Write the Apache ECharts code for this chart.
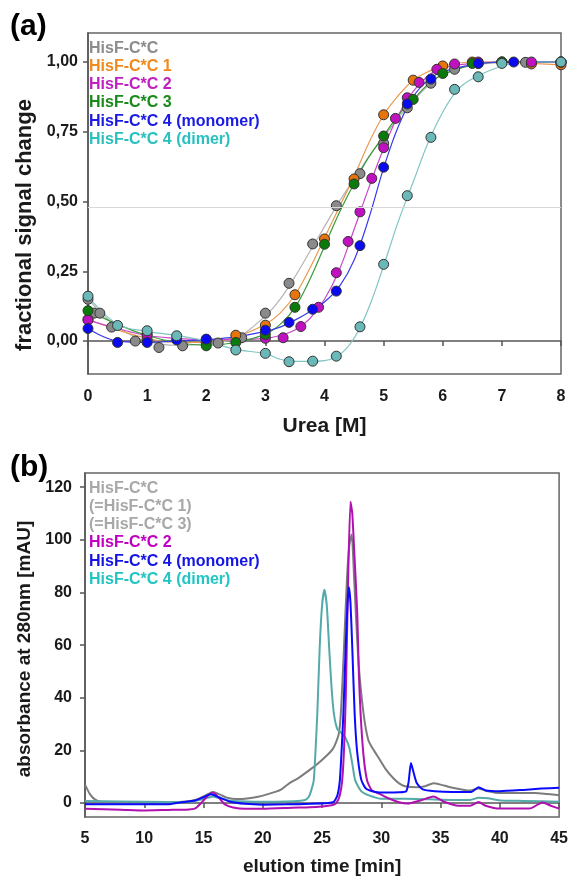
<!DOCTYPE html>
<html>
<head>
<meta charset="utf-8">
<script src="https://cdn.jsdelivr.net/npm/echarts@6/dist/echarts.min.js"></script>
<style>
  html, body { margin: 0; padding: 0; background: #fff; }
  #main { width: 571px; height: 879px; }
</style>
</head>
<body>
<div id="main"></div>
<script>
// ---- panel (a): urea unfolding ----
var names = ['HisF-C*C', 'HisF-C*C 1', 'HisF-C*C 2', 'HisF-C*C 3', 'HisF-C*C 4 (monomer)', 'HisF-C*C 4 (dimer)'];
var ureaTicks = [0, 1, 2, 3, 4, 5, 6, 7, 8];
var fracTicks = [0, 0.25, 0.5, 0.75, 1];
var halfLine = 0.485;

// measured points [urea, fraction]
var ptsC = [[0,0.15],[0.1,0.1],[0.2,0.1],[0.4,0.05],[0.8,0.0],[1.0,0.025],[1.2,-0.023],[1.6,-0.017],[2.2,-0.007],[2.6,0.012],[3.0,0.1],[3.4,0.207],[3.8,0.348],[4.2,0.485],[4.6,0.6],[5.0,0.709],[5.4,0.836],[5.8,0.924],[6.2,0.974],[6.6,0.995],[7.0,1.0],[7.4,0.999],[8.0,1.0]];
var ptsC1 = [[0,0.078],[1.0,0.006],[2.0,-0.005],[2.5,0.021],[3.0,0.057],[3.5,0.166],[4.0,0.366],[4.5,0.581],[5.0,0.811],[5.5,0.935],[6.0,0.986],[6.5,1.0],[7.0,1.0],[7.5,0.993],[8.0,0.99]];
var ptsC2 = [[0,0.075],[1.0,0.02],[2.0,0.005],[3.0,0.01],[3.3,0.012],[3.6,0.052],[3.9,0.121],[4.2,0.245],[4.4,0.357],[4.6,0.463],[4.8,0.583],[5.0,0.693],[5.2,0.798],[5.4,0.872],[5.6,0.927],[5.9,0.974],[6.2,0.993],[6.6,1.0],[7.5,1.0],[8.0,1.0]];
var ptsC3 = [[0,0.109],[2.0,-0.017],[2.5,-0.005],[3.0,0.024],[3.5,0.121],[4.0,0.347],[4.5,0.563],[5.0,0.735],[5.5,0.866],[6.0,0.959],[6.5,0.995],[7.0,1.0],[8.0,1.0]];
var ptsC4m = [[0,0.045],[0.5,-0.005],[1.0,-0.005],[1.5,0.004],[2.0,0.007],[3.0,0.039],[3.4,0.067],[3.8,0.114],[4.2,0.179],[4.6,0.342],[5.0,0.623],[5.4,0.85],[5.8,0.939],[6.6,0.995],[7.2,1.0],[8.0,1.0]];
var ptsC4d = [[0,0.161],[0.5,0.056],[1.0,0.037],[1.5,0.019],[2.5,-0.032],[3.0,-0.044],[3.4,-0.074],[3.8,-0.072],[4.2,-0.054],[4.6,0.051],[5.0,0.275],[5.4,0.521],[5.8,0.73],[6.2,0.902],[6.6,0.947],[7.0,0.995],[8.0,1.0]];

// fitted curves
var fitC = [[0,0.15],[0.5,0.05],[1,0.0],[1.5,-0.015],[2,-0.01],[2.5,0.01],[3,0.09],[3.25,0.15],[3.5,0.23],[3.75,0.32],[4,0.41],[4.25,0.5],[4.5,0.58],[4.75,0.66],[5,0.73],[5.25,0.8],[5.5,0.86],[5.75,0.915],[6,0.955],[6.5,0.988],[7,0.998],[7.5,1.0],[8,1.0]];
var fitC1 = [[0,0.078],[0.5,0.04],[1,0.01],[1.5,-0.005],[2,-0.005],[2.5,0.015],[3,0.06],[3.25,0.1],[3.5,0.165],[3.75,0.26],[4,0.37],[4.25,0.48],[4.5,0.59],[4.75,0.71],[5,0.81],[5.25,0.88],[5.5,0.935],[5.75,0.965],[6,0.985],[6.5,1.0],[7,1.0],[7.5,0.995],[8,0.99]];
var fitC2 = [[0,0.075],[0.5,0.045],[1,0.02],[1.5,0.01],[2,0.005],[2.5,0.005],[3,0.01],[3.25,0.02],[3.5,0.04],[3.75,0.08],[4,0.15],[4.25,0.255],[4.5,0.4],[4.75,0.55],[5,0.69],[5.25,0.81],[5.5,0.895],[5.75,0.95],[6,0.978],[6.5,0.995],[7,1.0],[7.5,1.0],[8,1.0]];
var fitC3 = [[0,0.109],[0.5,0.06],[1,0.02],[1.5,-0.005],[2,-0.015],[2.5,-0.005],[3,0.025],[3.25,0.06],[3.5,0.12],[3.75,0.22],[4,0.34],[4.25,0.46],[4.5,0.565],[4.75,0.66],[5,0.735],[5.25,0.81],[5.5,0.865],[5.75,0.92],[6,0.955],[6.5,0.99],[7,1.0],[7.5,1.0],[8,1.0]];
var fitC4m = [[0,0.045],[0.5,0.0],[1,-0.005],[1.5,0.0],[2,0.005],[2.5,0.015],[3,0.035],[3.25,0.05],[3.5,0.075],[3.75,0.105],[4,0.14],[4.25,0.195],[4.5,0.29],[4.75,0.44],[5,0.62],[5.25,0.77],[5.5,0.875],[5.75,0.935],[6,0.965],[6.5,0.99],[7,1.0],[7.5,1.0],[8,1.0]];
var fitC4d = [[0,0.16],[0.5,0.06],[1,0.035],[1.5,0.02],[2,0.0],[2.5,-0.03],[3,-0.045],[3.25,-0.065],[3.5,-0.073],[3.75,-0.073],[4,-0.07],[4.25,-0.05],[4.5,0.01],[4.75,0.12],[5,0.27],[5.25,0.43],[5.5,0.57],[5.75,0.71],[6,0.82],[6.25,0.9],[6.5,0.94],[7,0.985],[7.5,1.0],[8,1.0]];

// ---- panel (b): SEC elution profiles [min, mAU] ----
var timeTicks = [5, 10, 15, 20, 25, 30, 35, 40, 45];
var absTicks = [0, 20, 40, 60, 80, 100, 120];
var secC = [[5,7],[5.4,3.5],[5.8,1.5],[6.3,0.5],[7,0.3],[10,0.2],[12,0.3],[13.5,0.6],[14.5,1.5],[15.2,3],[15.8,4.2],[16.4,3.2],[17,2],[17.8,1.5],[18.5,1.6],[19.5,2.3],[20.5,3.5],[21.5,5],[22.2,7.4],[23.0,9.5],[23.9,12.4],[24.9,16],[25.9,20.5],[26.4,26],[26.6,35],[26.85,59],[27.1,85],[27.3,98],[27.5,102],[27.7,86],[27.85,72],[28.1,52],[28.5,34],[28.9,24],[29.3,20.5],[29.8,17],[30.35,13],[31.0,9.5],[31.5,7.5],[32.0,6.4],[33.0,6],[33.7,6.4],[34.4,7.5],[35,7],[36,5.8],[37,5],[37.5,4.8],[38.2,5.5],[39,4.5],[40,3.8],[42,3.8],[43,3.8],[44,3.4],[45,3]];
var secC2 = [[5,-2.2],[8,-2.5],[10,-2.8],[12,-2.6],[13.5,-2.5],[14.3,-2],[14.8,0],[15.3,2.5],[15.8,4],[16.3,2],[16.8,-0.5],[17.5,-1.7],[18.5,-2.2],[20,-2.2],[22.5,-1.8],[24.5,-1.5],[25.8,-0.8],[26.2,0],[26.5,3],[26.7,8.6],[26.85,20],[27.0,40],[27.2,85],[27.4,114.5],[27.55,110],[27.7,97],[27.97,72],[28.1,50],[28.25,34],[28.5,18],[28.8,8.6],[29.2,4.8],[29.8,3.6],[30.5,2],[31.5,0.3],[32.2,-0.2],[33.3,1],[34.4,2.5],[35.3,0.5],[36.5,-1],[37.5,-1],[38.2,0.4],[38.8,-1],[40,-2.1],[42.5,-2.1],[43.6,0.2],[44.3,-1],[45,-2.1]];
var secC4m = [[5,-0.5],[8,-0.5],[12,-0.5],[13,0.2],[14.3,1],[15,2.2],[15.6,3.3],[16.3,2.2],[17.2,0.6],[18.5,-0.3],[20,-0.6],[22,-0.5],[24,-0.3],[25.5,0],[26.0,0.5],[26.3,3],[26.5,8.6],[26.65,20],[26.8,34],[27.0,60],[27.15,76],[27.27,82],[27.4,76],[27.55,59],[27.75,34],[27.95,20],[28.3,9],[28.7,5.5],[29.5,4.2],[30.5,4],[31.5,4.1],[32.1,4.5],[32.3,8],[32.5,15.2],[32.7,12],[33.0,7.5],[33.5,5.2],[34.5,4.5],[36,4.2],[37.6,4.2],[38.2,6],[38.8,4.8],[40,4.5],[42,5],[43.5,5.5],[45,5.8]];
var secC4d = [[5,0.8],[8,0.6],[12,0.4],[14,0.6],[15,1.5],[15.8,2.5],[16.6,1.5],[17.5,0.8],[20,0.5],[22,0.6],[23.2,0.9],[23.6,1.2],[23.9,2.5],[24.1,5],[24.3,8.6],[24.45,20],[24.6,34],[24.8,59],[25.0,75],[25.2,81],[25.4,75],[25.6,59],[25.8,44],[26.0,34],[26.3,28],[26.7,26.4],[27.0,24.5],[27.3,21],[27.55,15],[27.8,8.6],[28.3,4.5],[28.9,3],[30,1.6],[32,1.6],[34,1.4],[36,1.2],[37.5,1.2],[38.2,2],[39,1.8],[40,1],[42,0.8],[45,0.5]];

var dotColors = ['#8a8a8a', '#e8740c', '#c010c0', '#0a7a0a', '#0a0af0', '#6ab8b8'];
var fitColors = ['#b4b4b4', '#e89a50', '#c848c8', '#3a9a3a', '#3a3ae8', '#80c4c4'];
var textColors = ['#8c8c8c', '#f08a1c', '#c020c0', '#1a8a1a', '#1a1ae6', '#2ac0c0'];

var myChart = echarts.init(document.getElementById('main'));
var font = 'Liberation Sans, Arial, sans-serif';

var pts = [ptsC, ptsC1, ptsC2, ptsC3, ptsC4m, ptsC4d];
var fits = [fitC, fitC1, fitC2, fitC3, fitC4m, fitC4d];
var series = [];

fits.forEach(function (f, i) {
    var s = {
        name: names[i],
        type: 'line',
        xAxisIndex: 0, yAxisIndex: 0,
        data: f,
        smooth: 0.4,
        showSymbol: false,
        silent: true,
        lineStyle: { color: fitColors[i], width: 1.2 },
        itemStyle: { color: dotColors[i] },
        z: 2
    };
    if (i == 0) {
        s.markLine = {
            silent: true, symbol: 'none', label: { show: false },
            lineStyle: { color: '#d8d8d8', width: 1, type: 'solid' },
            data: [{ yAxis: halfLine }]
        };
    }
    series.push(s);
});
pts.forEach(function (p, i) {
    series.push({
        name: names[i],
        type: 'scatter',
        xAxisIndex: 0, yAxisIndex: 0,
        data: p,
        symbolSize: 10,
        itemStyle: { color: dotColors[i], borderColor: '#333', borderWidth: 1, opacity: 1 },
        z: 3
    });
});

var secData = [secC, secC4d, secC2, secC4m];
var secNames = ['HisF-C*C', 'HisF-C*C 4 (dimer)', 'HisF-C*C 2', 'HisF-C*C 4 (monomer)'];
var secColors = ['#7c7c7c', '#55a9a9', '#b010b0', '#0a0aff'];
secData.forEach(function (d, i) {
    series.push({
        name: secNames[i],
        type: 'line',
        xAxisIndex: 1, yAxisIndex: 1,
        data: d,
        smooth: 0.2,
        showSymbol: false,
        lineStyle: { color: secColors[i], width: 2 },
        itemStyle: { color: secColors[i] }
    });
});

var axisLine = { show: true, lineStyle: { color: '#555', width: 1.5 } };
var axisTick = { show: true, inside: false, length: 5, lineStyle: { color: '#555', width: 1.5 } };
var labelStyle = { color: '#1a1a1a', fontSize: 16, fontWeight: 'bold', fontFamily: font };
function nameStyle(size, pad) {
    return { color: '#1a1a1a', fontSize: size, fontWeight: 'bold', fontFamily: font, padding: pad || 0 };
}

var option = {
    animation: false,
    backgroundColor: '#fff',
    graphic: [
        { type: 'text', left: 10, top: 12, style: { text: '(a)', fontSize: 30, fontWeight: 'bold', fontFamily: font, fill: '#000' } },
        { type: 'text', left: 10, top: 453, style: { text: '(b)', fontSize: 30, fontWeight: 'bold', fontFamily: font, fill: '#000' } }
    ],
    legend: [{
        orient: 'vertical', left: 79, top: 34,
        icon: 'none', itemWidth: 0, itemHeight: 14, itemGap: 0,
        selectedMode: false,
        textStyle: { fontSize: 16, fontWeight: 'bold', fontFamily: font, lineHeight: 18.3 },
        data: names.map(function (n, i) { return { name: n, textStyle: { color: textColors[i] } }; })
    }, {
        orient: 'vertical', left: 79, top: 474,
        icon: 'none', itemWidth: 0, itemHeight: 14, itemGap: 0,
        selectedMode: false,
        textStyle: { fontSize: 16, fontWeight: 'bold', fontFamily: font, lineHeight: 18.3 },
        formatter: function (n) {
            return n == 'HisF-C*C' ? 'HisF-C*C\n(=HisF-C*C 1)\n(=HisF-C*C 3)' : n;
        },
        data: [
            { name: 'HisF-C*C', textStyle: { color: '#a8a8a8' } },
            { name: 'HisF-C*C 2', textStyle: { color: '#c000c0' } },
            { name: 'HisF-C*C 4 (monomer)', textStyle: { color: '#1414e6' } },
            { name: 'HisF-C*C 4 (dimer)', textStyle: { color: '#22c4c4' } }
        ]
    }],
    grid: [
        { left: 88, right: 10, top: 33, height: 341, show: true, borderColor: '#666', borderWidth: 1.5, backgroundColor: 'transparent' },
        { left: 85, right: 10, top: 473, height: 344, show: true, borderColor: '#666', borderWidth: 1.5, backgroundColor: 'transparent' }
    ],
    xAxis: [{
        gridIndex: 0, type: 'value', min: 0, max: 8, interval: 1,
        name: 'Urea [M]', nameLocation: 'middle', nameGap: 42, nameTextStyle: nameStyle(21),
        axisLine: axisLine, axisTick: axisTick, splitLine: { show: false },
        axisLabel: Object.assign({ margin: 15, customValues: ureaTicks }, labelStyle)
    }, {
        gridIndex: 1, type: 'value', min: 5, max: 45, interval: 5,
        name: 'elution time [min]', nameLocation: 'middle', nameGap: 40, nameTextStyle: nameStyle(19),
        axisLine: axisLine, axisTick: axisTick, splitLine: { show: false },
        axisLabel: Object.assign({ margin: 14, customValues: timeTicks }, labelStyle)
    }],
    yAxis: [{
        gridIndex: 0, type: 'value', min: -0.118, max: 1.104,
        name: 'fractional signal change', nameLocation: 'middle', nameGap: 52,
        nameTextStyle: nameStyle(22, [0, 43, 0, 0]),
        axisLine: axisLine, splitLine: { show: false },
        axisTick: Object.assign({ customValues: fracTicks }, axisTick),
        axisLabel: Object.assign({
            margin: 10, customValues: fracTicks,
            formatter: function (v) { return v.toFixed(2).replace('.', ','); }
        }, labelStyle)
    }, {
        gridIndex: 1, type: 'value', min: -5.3, max: 125.4,
        name: 'absorbance at 280nm [mAU]', nameLocation: 'middle', nameGap: 51,
        nameTextStyle: nameStyle(19, [0, 8, 0, 0]),
        axisLine: axisLine, splitLine: { show: false },
        axisTick: Object.assign({ customValues: absTicks }, axisTick),
        axisLabel: Object.assign({ margin: 13, customValues: absTicks }, labelStyle)
    }],
    series: series
};
myChart.setOption(option);
window.addEventListener('resize', function () {
    myChart.resize();
});
</script>
</body>
</html>
